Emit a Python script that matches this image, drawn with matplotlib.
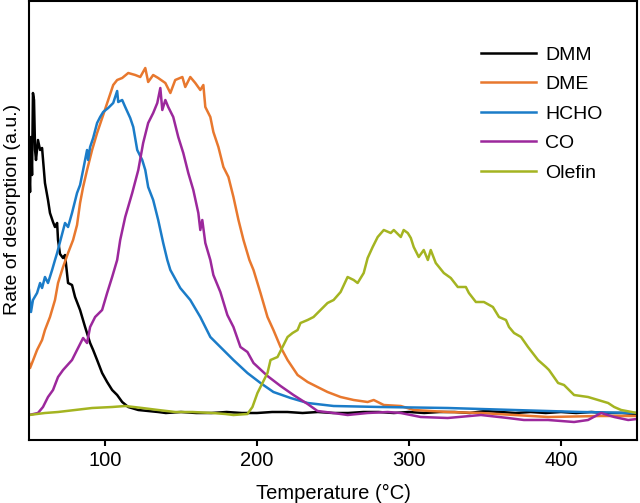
import matplotlib
matplotlib.use('Agg')
import matplotlib.pyplot as plt

plt.rcParams['font.family'] = ['Liberation Sans', 'DejaVu Sans']

# temperature (C) and rate of desorption (a.u.)
dmm_t = [50.0, 50.7, 51.3, 52.0, 52.6, 53.3, 54.0, 54.6, 55.9, 57.3, 58.6, 60.5, 62.5, 63.8,
         65.8, 67.1, 68.5, 69.1, 70.4, 72.4, 73.7, 75.7, 78.3, 80.3, 83.6, 86.9, 90.2, 92.2,
         94.8, 98.1, 101.4, 104.7, 108.0, 111.3, 115.3, 121.9, 135.0, 140, 150, 160, 170,
         180, 190, 200, 210, 220, 230, 240, 250, 260, 270, 280, 290, 300, 310, 320, 330, 340,
         350, 360, 370, 380, 390, 400, 410, 420, 430, 440, 450]
dmm_y = [275, 248, 303, 265, 347, 340, 290, 280, 300, 290, 292, 257, 240, 227,
         218, 213, 217, 200, 186, 182, 185, 157, 155, 143, 130, 113, 97, 90,
         80, 67, 58, 50, 45, 38, 33, 30, 28, 27, 28, 27, 27,
         28, 27, 27, 28, 28, 27, 28, 27, 27, 28, 28, 27, 28, 27, 28, 28, 27,
         29, 28, 27, 28, 27, 28, 27, 28, 27, 27, 26]

dme_t = [50.0, 50.7, 52.0, 55.3, 58.6, 60.5, 63.8, 67.1, 69.1, 72.4, 75.7, 79.0, 81.6, 83.6,
         85.6, 88.2, 91.5, 94.8, 98.8, 102.1, 105.4, 108.0, 111.3, 115.3, 119.9, 123.2, 126.5,
         128.4, 131.7, 135.0, 139.7, 143.0, 146.2, 150.9, 152.8, 156.1, 159.4, 162.7, 164.7,
         166.0, 169.3, 171.3, 174.6, 177.9, 181.2, 184.5, 187.8, 191.1, 195.0, 197.7, 202.3,
         206.9, 210.8, 215.5, 220.1, 226.7, 233.3, 239.8, 246.4, 255.0, 263.6, 272.8, 276.8,
         283.4, 294.6, 303.1, 325.5, 347.3, 391.5, 426.4, 450]
dme_y = [78, 72, 77, 90, 100, 110, 123, 140, 157, 173, 187, 200, 215, 237,
         253, 270, 290, 307, 325, 340, 355, 360, 362, 367, 365, 363, 372,
         358, 365, 362, 357, 347, 360, 363, 353, 363, 357, 350, 355,
         333, 323, 308, 293, 273, 263, 243, 220, 200, 180, 170, 147,
         123, 110, 93, 80, 65, 58, 53, 48, 43, 40, 38, 40,
         35, 34, 30, 28, 27, 23, 24, 24]

hcho_t = [50.0, 51.3, 52.6, 55.3, 57.3, 58.6, 60.5, 62.5, 65.2, 67.1, 68.5, 70.4, 73.7, 75.7,
          78.3, 81.6, 83.6, 85.6, 88.2, 88.9, 90.2, 92.2, 94.8, 96.8, 98.8, 102.1, 105.4,
          108.0, 108.7, 111.3, 113.3, 116.6, 118.6, 121.2, 124.5, 126.5, 128.4, 131.7, 135.0,
          138.3, 141.0, 143.0, 149.5, 156.1, 162.7, 169.3, 175.9, 184.5, 193.7, 202.3, 210.8,
          222.1, 233.3, 250.4, 281.4, 325.5, 369.1, 413.2, 450]
hcho_y = [150, 128, 140, 147, 157, 152, 163, 157, 170, 180, 187, 198, 217, 213,
          227, 247, 255, 270, 290, 280, 293, 302, 317, 323, 328, 332, 337,
          349, 338, 340, 333, 322, 313, 290, 280, 270, 253, 240, 220,
          197, 180, 170, 152, 140, 123, 103, 93, 80, 67, 57, 48,
          42, 37, 34, 33, 32, 30, 28, 27]

co_t = [50.0, 55.9, 59.2, 62.5, 65.8, 69.1, 72.4, 78.3, 81.6, 85.6, 88.2, 90.2, 93.5, 98.1,
        101.4, 104.7, 108.0, 110.0, 113.3, 117.9, 121.9, 125.1, 128.4, 131.7, 134.4, 136.4,
        137.7, 139.7, 141.6, 144.9, 148.2, 151.5, 154.8, 158.1, 161.4, 162.7, 164.0, 166.0,
        169.3, 171.3, 175.9, 180.5, 184.5, 189.1, 193.7, 197.7, 206.9, 215.5, 224.0, 233.3,
        239.8, 250.4, 259.6, 272.8, 286.0, 294.6, 307.7, 325.5, 347.3, 365.1, 375.6, 391.5,
        408.6, 417.8, 426.4, 435.0, 444.2, 450]
co_y = [25, 27, 33, 43, 50, 63, 70, 80, 90, 102, 97, 113, 123, 130,
        147, 163, 180, 200, 223, 247, 270, 297, 317, 327, 337, 352,
        330, 340, 333, 323, 303, 287, 267, 250, 227, 210, 220, 197,
        180, 165, 148, 125, 113, 93, 88, 77, 64, 54, 45, 36,
        29, 27, 25, 27, 28, 27, 23, 22, 25, 22, 20, 20,
        18, 20, 27, 23, 20, 21]

olefin_t = [50.0, 60.5, 69.1, 80.3, 91.5, 104.7, 113.3, 124.5, 135.0, 146.2, 157.5, 170.6,
            179.2, 184.5, 193.7, 197.0, 200.3, 203.6, 206.9, 208.9, 213.5, 216.8, 220.1,
            223.4, 226.7, 228.6, 233.3, 237.2, 241.8, 246.4, 250.4, 255.0, 259.6, 263.6,
            266.2, 270.2, 272.8, 276.1, 279.4, 283.4, 288.0, 290.0, 294.6, 296.5, 299.2,
            301.2, 303.1, 306.4, 309.7, 312.4, 314.3, 317.6, 322.9, 327.5, 332.1, 337.4,
            339.4, 344.0, 349.3, 355.2, 359.2, 363.8, 365.8, 369.1, 373.7, 378.3, 384.9,
            390.1, 392.1, 398.1, 402.0, 408.6, 417.8, 424.4, 431.0, 435.0, 439.6, 450]
olefin_y = [25, 27, 28, 30, 32, 33, 34, 32, 30, 28, 28, 27,
            26, 25, 26, 33, 47, 57, 67, 80, 83, 93, 103,
            107, 110, 117, 120, 123, 130, 137, 140, 148, 163, 160,
            157, 167, 182, 193, 203, 210, 207, 210, 203, 210, 207,
            202, 193, 183, 190, 180, 190, 177, 167, 162, 153, 153,
            147, 138, 138, 133, 123, 120, 113, 107, 103, 93, 80,
            73, 70, 57, 55, 45, 43, 40, 37, 33, 30, 27]

series = [
    ('DMM', dmm_t, dmm_y, 'black'),
    ('DME', dme_t, dme_y, '#e8782e'),
    ('HCHO', hcho_t, hcho_y, '#1b7cc8'),
    ('CO', co_t, co_y, '#9c289c'),
    ('Olefin', olefin_t, olefin_y, '#a4b421'),
]

fig = plt.figure(figsize=(6.4, 5.03), dpi=100)
ax = fig.add_axes([29 / 640, 63 / 503, 608 / 640, 439 / 503])

for name, t, y, c in series:
    ax.plot(t, y, color=c, lw=1.8, label=name)

ax.set_xlim(50, 450)
ax.set_ylim(0, 439)
ax.set_xticks([100, 200, 300, 400])
ax.set_yticks([])
ax.tick_params(axis='x', direction='out', length=4, width=1.5, labelsize=14.5, pad=4)
for s in ax.spines.values():
    s.set_linewidth(1.5)

ax.set_xlabel('Temperature (°C)', fontsize=14.5, labelpad=10)
ax.set_ylabel('Rate of desorption (a.u.)', fontsize=14)
ax.yaxis.set_label_coords(-0.0135, 0.525)

ax.legend(loc='upper left', bbox_to_anchor=(0.743, 0.897), frameon=False, fontsize=14,
          handlelength=2.85, handletextpad=0.46, labelspacing=0.61,
          borderpad=0, borderaxespad=0)

fig.savefig('out.png', dpi=100)
